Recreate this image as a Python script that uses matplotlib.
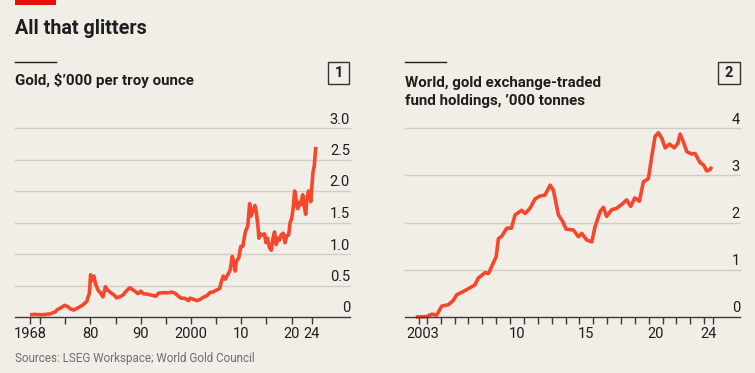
import matplotlib
matplotlib.use("Agg")
import matplotlib.pyplot as plt
from matplotlib.patches import Rectangle
from matplotlib.lines import Line2D
import matplotlib.transforms as mtransforms

plt.rcParams['font.family'] = ['Roboto', 'DejaVu Sans']

# ---------------- data ----------------
gold_years = [1968.0, 1969.0, 1970.0, 1971.0, 1972.0, 1973.0, 1973.5, 1974.0, 1974.9, 1975.5,
              1976.0, 1976.7, 1977.5, 1978.5, 1979.3, 1979.8, 1980.05, 1980.3, 1980.7, 1981.0,
              1981.5, 1982.0, 1982.5, 1983.0, 1983.5, 1984.0, 1984.7, 1985.2, 1985.8, 1986.5,
              1987.0, 1987.8, 1988.5, 1989.0, 1989.5, 1990.0, 1990.5, 1991.5, 1992.5, 1993.0,
              1993.6, 1994.5, 1995.5, 1996.2, 1996.8, 1997.5, 1998.0, 1998.8, 1999.5, 1999.8,
              2000.5, 2001.2, 2001.8, 2002.5, 2003.2, 2003.8, 2004.5, 2005.0, 2005.7, 2006.0,
              2006.4, 2006.8, 2007.3, 2007.8, 2008.2, 2008.5, 2008.8, 2009.0, 2009.5, 2009.9,
              2010.3, 2010.8, 2011.3, 2011.65, 2011.9, 2012.3, 2012.7, 2013.0, 2013.3, 2013.5,
              2013.8, 2014.2, 2014.6, 2014.9, 2015.2, 2015.6, 2015.95, 2016.3, 2016.6, 2016.95,
              2017.3, 2017.6, 2017.9, 2018.3, 2018.7, 2019.0, 2019.4, 2019.7, 2020.0, 2020.3,
              2020.6, 2020.9, 2021.2, 2021.5, 2021.8, 2022.2, 2022.5, 2022.8, 2023.0, 2023.35,
              2023.7, 2023.8, 2024.0, 2024.25, 2024.5, 2024.8]
gold_values = [0.035, 0.041, 0.036, 0.039, 0.050, 0.080, 0.120, 0.140, 0.185, 0.165,
               0.130, 0.110, 0.145, 0.190, 0.250, 0.380, 0.670, 0.580, 0.650, 0.530,
               0.430, 0.380, 0.320, 0.480, 0.420, 0.390, 0.350, 0.305, 0.320, 0.350,
               0.400, 0.465, 0.430, 0.400, 0.370, 0.410, 0.370, 0.360, 0.340, 0.330,
               0.380, 0.385, 0.385, 0.395, 0.380, 0.330, 0.300, 0.295, 0.260, 0.300,
               0.280, 0.260, 0.280, 0.315, 0.340, 0.390, 0.400, 0.425, 0.450, 0.550,
               0.650, 0.600, 0.670, 0.750, 0.960, 0.880, 0.730, 0.880, 0.940, 1.120,
               1.120, 1.350, 1.450, 1.800, 1.600, 1.680, 1.770, 1.650, 1.450, 1.250,
               1.320, 1.300, 1.320, 1.180, 1.250, 1.100, 1.060, 1.250, 1.350, 1.150,
               1.250, 1.220, 1.300, 1.330, 1.180, 1.290, 1.300, 1.500, 1.560, 1.720,
               2.000, 1.860, 1.720, 1.820, 1.780, 1.940, 1.760, 1.630, 1.850, 2.000,
               1.880, 1.830, 2.050, 2.300, 2.400, 2.700]

etf_years = [2003.2, 2004.0, 2004.35, 2004.7, 2005.07, 2005.55, 2005.9, 2006.15, 2006.63, 2007.0,
             2007.47, 2007.7, 2008.2, 2008.44, 2008.8, 2009.0, 2009.16, 2009.4, 2009.76, 2010.1,
             2010.36, 2010.84, 2011.08, 2011.44, 2011.8, 2012.16, 2012.52, 2012.89, 2013.13, 2013.49,
             2013.8, 2014.04, 2014.57, 2014.93, 2015.17, 2015.53, 2015.9, 2016.13, 2016.5, 2016.73,
             2016.97, 2017.33, 2017.69, 2018.17, 2018.41, 2018.7, 2019.0, 2019.33, 2019.62, 2019.98,
             2020.22, 2020.46, 2020.7, 2020.95, 2021.19, 2021.5, 2021.84, 2022.1, 2022.27, 2022.5,
             2022.75, 2023.1, 2023.35, 2023.7, 2023.95, 2024.19, 2024.43, 2024.55]
etf_values = [0.00, 0.01, 0.06, 0.04, 0.23, 0.26, 0.35, 0.47, 0.54, 0.60,
              0.68, 0.82, 0.94, 0.92, 1.15, 1.28, 1.66, 1.71, 1.88, 1.88,
              2.16, 2.26, 2.19, 2.30, 2.50, 2.56, 2.58, 2.79, 2.68, 2.16,
              2.02, 1.86, 1.84, 1.70, 1.77, 1.63, 1.59, 1.91, 2.23, 2.32,
              2.13, 2.27, 2.30, 2.41, 2.48, 2.34, 2.52, 2.45, 2.86, 2.93,
              3.39, 3.82, 3.90, 3.78, 3.58, 3.66, 3.58, 3.67, 3.87, 3.71,
              3.50, 3.45, 3.46, 3.27, 3.22, 3.09, 3.12, 3.18]

gold_yticks = [0, 0.5, 1.0, 1.5, 2.0, 2.5, 3.0]
gold_ylabels = ["0", "0.5", "1.0", "1.5", "2.0", "2.5", "3.0"]
gold_xlabel_pos = [1968, 1980, 1990, 2000, 2010, 2020, 2024]
gold_xlabels = ["1968", "80", "90", "2000", "10", "20", "24"]
gold_minor_ticks = [1970, 1975, 1985, 1995, 2005, 2015]

etf_yticks = [0, 1, 2, 3, 4]
etf_ylabels = ["0", "1", "2", "3", "4"]
etf_tick_marks = [2003.4] + list(range(2004, 2025)) + [2024.65]
etf_xlabel_pos = [2003.72, 2010.5, 2015.5, 2020.5, 2024.33]
etf_xlabels = ["2003", "10", "15", "20", "24"]

title = "All that glitters"
sub1 = "Gold, $\u2019000 per troy ounce"
sub2 = "World, gold exchange-traded\nfund holdings, \u2019000 tonnes"
source = "Sources: LSEG Workspace; World Gold Council"

# ---------------- style ----------------
BG = "#F0EEE7"
LINE = "#F4472B"
RED = "#E3120B"
GRID = "#CFCDC7"
DARK = "#1e1e1e"
W, H = 755, 373

fig = plt.figure(figsize=(W / 100, H / 100), dpi=100, facecolor=BG)


def fx(px):
    return px / W


def fy(py):
    return 1 - py / H


def make_axes(x0, x1, y_top, y_bot):
    ax = fig.add_axes([fx(x0), fy(y_bot), (x1 - x0) / W, (y_bot - y_top) / H])
    ax.set_facecolor(BG)
    for s in ["top", "right", "left"]:
        ax.spines[s].set_visible(False)
    ax.spines["bottom"].set_color("#3a3a3a")
    ax.spines["bottom"].set_linewidth(1.0)
    ax.spines["bottom"].set_zorder(5)
    return ax


def y_axis(ax, ticks, labels, top):
    ax.set_ylim(0, top)
    for t in ticks[1:]:
        ln = ax.axhline(t, color=GRID, lw=1.0, zorder=0)
        ln.set_clip_on(False)
    ax.set_yticks([])
    trans = mtransforms.blended_transform_factory(ax.transAxes, ax.transData)
    trans = mtransforms.offset_copy(trans, fig=fig, x=0, y=4.5, units="dots")
    for t, lab in zip(ticks, labels):
        ax.text(1.0, t, lab, transform=trans, ha="right", va="baseline",
                fontsize=10.5, color=DARK)


# left panel
ax1 = make_axes(15, 350, 128, 317)
ax1.set_xlim(1965.02, 2031.6)
y_axis(ax1, gold_yticks, gold_ylabels, 3.0)
ax1.plot(gold_years, gold_values, color=LINE, lw=2.6, solid_joinstyle="round",
         solid_capstyle="butt", zorder=3, clip_on=False)
ax1.set_xticks(gold_xlabel_pos, gold_xlabels)
ax1.set_xticks(gold_minor_ticks, minor=True)
ax1.tick_params(axis="x", which="both", direction="out", length=5, width=1,
                color="#3a3a3a", labelsize=10.5, labelcolor=DARK, pad=2)

# right panel
ax2 = make_axes(405, 740, 128, 317)
ax2.set_xlim(2002.42, 2026.59)
y_axis(ax2, etf_yticks, etf_ylabels, 4.0)
ax2.plot(etf_years, etf_values, color=LINE, lw=2.6, solid_joinstyle="round",
         solid_capstyle="butt", zorder=3, clip_on=False)
ax2.set_xticks(etf_xlabel_pos, etf_xlabels)
ax2.set_xticks(etf_tick_marks, minor=True)
ax2.tick_params(axis="x", which="major", length=0, labelsize=10.5, labelcolor=DARK, pad=7)
ax2.tick_params(axis="x", which="minor", direction="out", length=5, width=1, color="#3a3a3a")

# ---------------- header / furniture ----------------
fig.patches.append(Rectangle((fx(15), fy(5)), 41 / W, 5 / H, transform=fig.transFigure,
                             facecolor=RED, edgecolor="none"))
fig.text(fx(15), fy(34), title, fontsize=14.2, fontweight="bold", color=DARK,
         va="baseline", ha="left")

for x0 in (15, 405):
    fig.lines.append(Line2D([fx(x0), fx(x0 + 41)], [fy(62), fy(62)], transform=fig.transFigure,
                            color=DARK, lw=1.0))

fig.text(fx(15), fy(85), sub1, fontsize=10.9, fontweight="bold", color=DARK,
         va="baseline", ha="left")
fig.text(fx(405), fy(105), sub2, fontsize=10.9, fontweight="bold", color=DARK,
         va="baseline", ha="left", linespacing=1.32)

for (x0, x1, lab) in ((328, 349, "1"), (718, 740, "2")):
    fig.patches.append(Rectangle((fx(x0), fy(83.5)), (x1 - x0) / W, 21.5 / H,
                                 transform=fig.transFigure, facecolor="none",
                                 edgecolor="#333333", lw=1.0))
    fig.text(fx((x0 + x1) / 2), fy(72.8), lab, fontsize=10.5, fontweight="bold",
             color=DARK, ha="center", va="center")

fig.text(fx(15), fy(362), source, fontsize=8.4, color="#6e6e6e", va="baseline", ha="left")

fig.savefig("out.png", dpi=100, facecolor=BG)
